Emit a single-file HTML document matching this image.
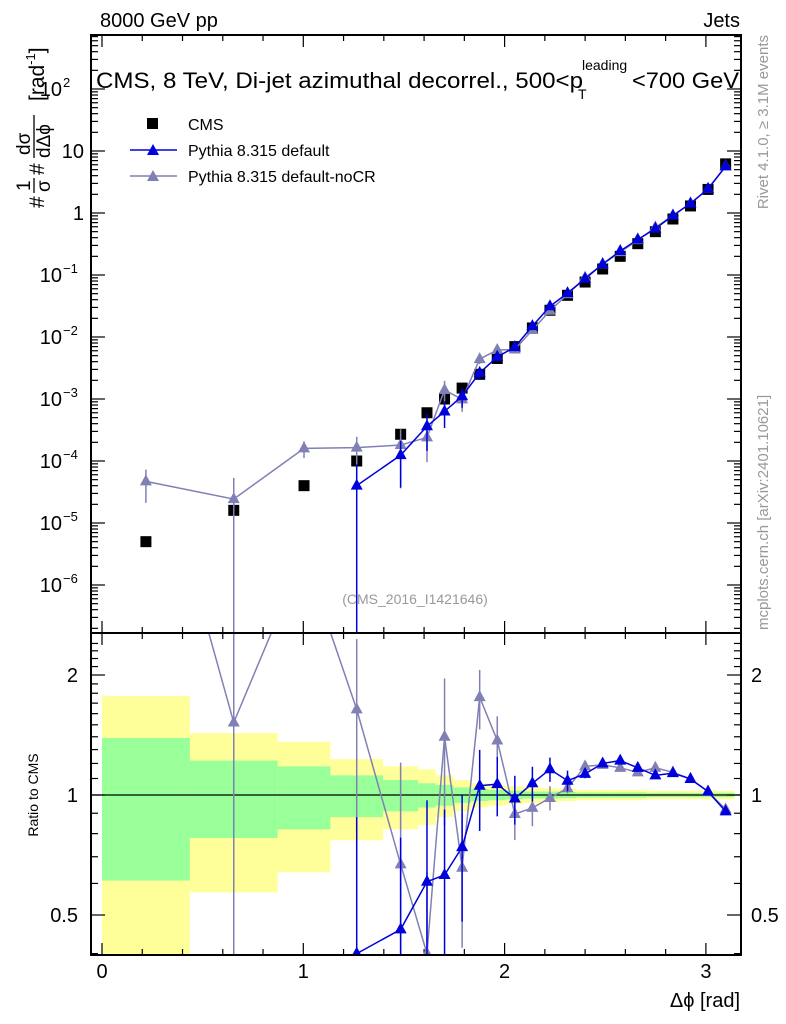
<!DOCTYPE html>
<html><head><meta charset="utf-8"><style>
html,body{margin:0;padding:0;background:#fff;overflow:hidden;width:786px;height:1024px;}
svg{display:block;font-family:"Liberation Sans",sans-serif;}
</style></head><body>
<svg id="c" width="786" height="1024" viewBox="0 0 786 1024">
<defs>
<clipPath id="cTop"><rect x="91" y="35" width="650" height="598"/></clipPath>
<clipPath id="cRat"><rect x="91" y="633" width="650" height="322"/></clipPath>
</defs>
<g id="bands" clip-path="url(#cRat)"></g>
<g id="ticks"></g>
<line x1="91" y1="795" x2="741" y2="795" stroke="#000" stroke-width="1.3"/>
<g id="topMarks" clip-path="url(#cTop)"></g>
<g id="ratMarks" clip-path="url(#cRat)"></g>
<rect x="91" y="35" width="650" height="598" fill="none" stroke="#000" stroke-width="2"/>
<rect x="91" y="633" width="650" height="322" fill="none" stroke="#000" stroke-width="2"/>
<g id="labels" font-size="20"></g>
<text x="100" y="27" font-size="20">8000 GeV pp</text>
<text x="740" y="27" font-size="20" text-anchor="end">Jets</text>
<g>
<text x="96" y="88" font-size="22" textLength="487" lengthAdjust="spacingAndGlyphs">CMS, 8 TeV, Di-jet azimuthal decorrel., 500&lt;p</text>
<text x="582" y="70" font-size="14">leading</text>
<text x="578" y="99" font-size="14">T</text>
<text x="632" y="88" font-size="22" textLength="107" lengthAdjust="spacingAndGlyphs">&lt;700 GeV</text>
</g>
<g font-size="16">
<rect x="147" y="118" width="11" height="11" fill="#000"/>
<text x="188" y="130">CMS</text>
<line x1="130" y1="150" x2="177" y2="150" stroke="#0000dd" stroke-width="1.5"/>
<path d="M153,144 L159,155 L147,155 Z" fill="#0000dd"/>
<text x="188" y="156">Pythia 8.315 default</text>
<line x1="130" y1="176" x2="177" y2="176" stroke="#8080b4" stroke-width="1.5"/>
<path d="M153,170 L159,181 L147,181 Z" fill="#8080b4"/>
<text x="188" y="182">Pythia 8.315 default-noCR</text>
</g>
<text x="415" y="604" font-size="14" fill="#999" text-anchor="middle">(CMS_2016_I1421646)</text>
<text transform="translate(768,35) rotate(-90)" font-size="15" fill="#999" text-anchor="end">Rivet 4.1.0, ≥ 3.1M events</text>
<text transform="translate(768,630) rotate(-90)" font-size="15" fill="#999">mcplots.cern.ch [arXiv:2401.10621]</text>
<g transform="translate(0,208) rotate(-90)" font-size="21">
<text x="0" y="44">#</text>
<text x="17" y="30" font-size="19">1</text><line x1="15" y1="34" x2="30" y2="34" stroke="#000" stroke-width="1.3"/><text x="16" y="50" font-size="19">σ</text>
<text x="33" y="44">#</text>
<text x="53" y="30" font-size="19">dσ</text><line x1="50" y1="34" x2="93" y2="34" stroke="#000" stroke-width="1.3"/><text x="50" y="50" font-size="19">dΔϕ</text>
<text x="107" y="44">[rad<tspan font-size="13" dy="-9">-1</tspan><tspan dy="9">]</tspan></text>
</g>
<text transform="translate(38,795) rotate(-90)" font-size="14" text-anchor="middle">Ratio to CMS</text>
<text x="740" y="1007" font-size="20" text-anchor="end">Δϕ [rad]</text>
</svg>
<script>
// bin edges in units of pi/36
const binEdges = [0,5,10,13,16,18,19,20,21,22,23,24,25,26,27,28,29,30,31,32,33,34,35,36];
const cmsValues = [5e-6,1.6e-5,4e-5,1e-4,2.7e-4,6e-4,1e-3,1.5e-3,2.5e-3,4.5e-3,7e-3,1.4e-2,2.7e-2,4.7e-2,7.7e-2,0.125,0.2,0.32,0.5,0.8,1.3,2.4,6.2];
const bandTotal = [0.77,0.43,0.36,0.23,0.18,0.16,0.12,0.09,0.07,0.06,0.05,0.045,0.04,0.035,0.03,0.03,0.03,0.03,0.025,0.025,0.025,0.025,0.025];
const bandStat = [0.39,0.22,0.18,0.12,0.09,0.07,0.06,0.045,0.035,0.03,0.025,0.02,0.02,0.018,0.015,0.015,0.015,0.015,0.012,0.012,0.012,0.012,0.012];
const defaultRatio = [null,null,null,0.4,0.46,0.606,0.63,0.74,1.055,1.065,0.98,1.07,1.16,1.086,1.13,1.2,1.22,1.17,1.12,1.135,1.097,1.02,0.91];
const defaultRelErr = [null,null,null,1.2,0.7,0.6,0.46,0.35,0.23,0.17,0.14,0.1,0.07,0.06,0.025,0.02,0.02,0.02,0.02,0.02,0.02,0.02,0.02];
const nocrRatio = [9.4,1.52,4.0,1.64,0.67,0.40,1.40,0.657,1.76,1.37,0.896,0.928,0.983,1.04,1.18,1.19,1.17,1.14,1.17,1.14,1.097,1.02,0.92];
const nocrRelErr = [0.55,1.2,0.3,0.5,0.8,0.6,0.4,0.37,0.17,0.15,0.14,0.1,0.07,0.03,0.02,0.02,0.02,0.02,0.02,0.02,0.02,0.02,0.02];
const xTickLabels = ["0","1","2","3"];
const topExps = [2,1,0,-1,-2,-3,-4,-5,-6];
const ratioTickLabels = ["0.5","1","2"];

const NS="http://www.w3.org/2000/svg";
const X = v => 102 + 201.3*v;
const YT = v => 213 - 62*Math.log10(v);
const YR = r => 795 - 398.6*Math.log10(r);
const clamp = (v,a,b) => Math.max(a,Math.min(b,v));
function mk(tag, attrs, parent){const e=document.createElementNS(NS,tag);for(const k in attrs)e.setAttribute(k,attrs[k]);parent.appendChild(e);return e;}
const PI36 = Math.PI/36;
const centers = binEdges.slice(0,-1).map((e,i)=>(e+binEdges[i+1])/2*PI36);

const bands=document.getElementById('bands');
[[bandTotal,'#ffff99','band-total'],[bandStat,'#99ff99','band-stat']].forEach(([arr,col,nm])=>{
  arr.forEach((u,i)=>{
    const x0=X(binEdges[i]*PI36), x1=X(binEdges[i+1]*PI36);
    const lo=Math.max(1-u,0.01);
    const yA=clamp(YR(1+u),630,960), yB=clamp(YR(lo),630,960);
    const r=mk('rect',{x:x0,y:yA,width:x1-x0,height:yB-yA,fill:col},bands);
    
    
  });
});

const tk=document.getElementById('ticks');
function ln(x1,y1,x2,y2){mk('line',{x1,y1,x2,y2,stroke:'#000','stroke-width':1.2},tk);}
for(let v=0;v<=3.15;v+=0.2){
  const major=Math.abs(v-Math.round(v))<1e-6, L=major?12:6, x=X(v);
  [[35,1],[633,-1],[633,1],[955,-1]].forEach(([y,d])=>ln(x,y,x,y+d*L));
}
for(let e=-7;e<=2;e++){for(let m=1;m<=9;m++){const v=m*Math.pow(10,e);const y=YT(v);if(y<35||y>633)continue;const L=m===1?14:7;ln(91,y,91+L,y);ln(741,y,741-L,y);}}
for(let r=0.4;r<=2.5;r+=0.1){const y=YR(r);if(y<633||y>955)continue;const mj=[0.5,1,2].some(q=>Math.abs(q-r)<1e-6);const L=mj?14:7;ln(91,y,91+L,y);ln(741,y,741-L,y);}

const lb=document.getElementById('labels');
xTickLabels.forEach((t,i)=>{const e=mk('text',{x:X(+t),y:978,'text-anchor':'middle'},lb);e.textContent=t;
  
  });
topExps.forEach(p=>{const y=YT(Math.pow(10,p))+7;let e;
  if(p===1){e=mk('text',{x:84,y:y,'text-anchor':'end'},lb);e.textContent='10';}
  else if(p===0){e=mk('text',{x:84,y:y,'text-anchor':'end'},lb);e.textContent='1';}
  else{e=mk('text',{x:62,y:y,'text-anchor':'end'},lb);e.textContent='10';
    const s=mk('text',{x:63,y:y-9,'font-size':13},lb);s.textContent=(p<0?'−':'')+Math.abs(p);}
  
  });
ratioTickLabels.forEach(t=>{const y=YR(+t)+7;
  const a=mk('text',{x:78,y:y,'text-anchor':'end'},lb);a.textContent=t;
  
  
  const b=mk('text',{x:751,y:y},lb);b.textContent=t;
  
  });

const tm=document.getElementById('topMarks'), rm=document.getElementById('ratMarks');
function tri(g,x,y,col,nm){const p=mk('path',{d:`M${x},${y-7} L${x+6},${y+4} L${x-6},${y+4} Z`,fill:col},g);
  
  }
function series(ratio,rel,col,nm){
  let ptsT=[],ptsR=[];
  ratio.forEach((r,i)=>{if(r==null)return;const x=centers[i];const v=r*cmsValues[i];
    ptsT.push([X(x),YT(v)]);ptsR.push([X(x),YR(r)]);});
  const pl=mk('polyline',{points:ptsT.map(p=>p.join(',')).join(' '),fill:'none',stroke:col,'stroke-width':1.5},tm);
  
  
  const pr=mk('polyline',{points:ptsR.map(p=>p.join(',')).join(' '),fill:'none',stroke:col,'stroke-width':1.5},rm);
  
  
  ratio.forEach((r,i)=>{if(r==null)return;const x=X(centers[i]);const v=r*cmsValues[i];const u=rel[i];
    const lo=1-u>0?(1-u):1e-12;
    const e1=mk('line',{x1:x,x2:x,y1:clamp(YT(v*(1+u)),30,640),y2:clamp(YT(v*lo),30,640),stroke:col,'stroke-width':1.5},tm);
    
    
    const e2=mk('line',{x1:x,x2:x,y1:clamp(YR(r*(1+u)),628,960),y2:clamp(YR(r*lo),628,960),stroke:col,'stroke-width':1.5},rm);
    
    
    tri(tm,x,YT(v),col,nm+'-point');
    tri(rm,x,YR(r),col,nm+'-ratio-point');
  });
}
cmsValues.forEach((v,i)=>{const x=X(centers[i]),y=YT(v);
  const r=mk('rect',{x:x-5.5,y:y-5.5,width:11,height:11,fill:'#000'},tm);
  
  });
series(nocrRatio,nocrRelErr,'#8080b4','pythia-nocr');
series(defaultRatio,defaultRelErr,'#0000dd','pythia-default');
</script>
</body></html>
